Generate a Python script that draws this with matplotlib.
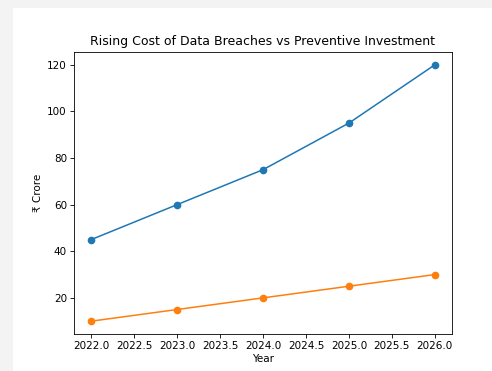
import matplotlib.pyplot as plt
from matplotlib.patches import Rectangle

years = [2022, 2023, 2024, 2025, 2026]
breach_cost = [45, 60, 75, 95, 120]
prevention = [10, 15, 20, 25, 30]

fig = plt.figure(figsize=(4.92, 3.71), dpi=100)
fig.patch.set_facecolor('#f3f3f3')
# white screenshot area behind the axes
bg = Rectangle((13 / 492, 0), 1, (371 - 8) / 371, transform=fig.transFigure,
               facecolor='white', edgecolor='none')
bg.set_zorder(-10)
fig.add_artist(bg)

ax = fig.add_axes([74 / 492, 37 / 371, 378 / 492, 282 / 371])
ax.set_zorder(1)
ax.plot(years, breach_cost, marker='o', color='#1f77b4', linewidth=1.1, markersize=4.5)
ax.plot(years, prevention, marker='o', color='#ff7f0e', linewidth=1.1, markersize=4.5)

ax.set_title("Rising Cost of Data Breaches vs Preventive Investment", fontsize=9, pad=5)
ax.set_xlabel("Year", fontsize=7.5, labelpad=2)
ax.set_ylabel("₹ Crore", fontsize=7.5, labelpad=3)
ax.tick_params(labelsize=7.5, length=2.6, width=0.6, pad=2.5)
for s in ax.spines.values():
    s.set_linewidth(0.6)

fig.savefig("out.png", dpi=100)
